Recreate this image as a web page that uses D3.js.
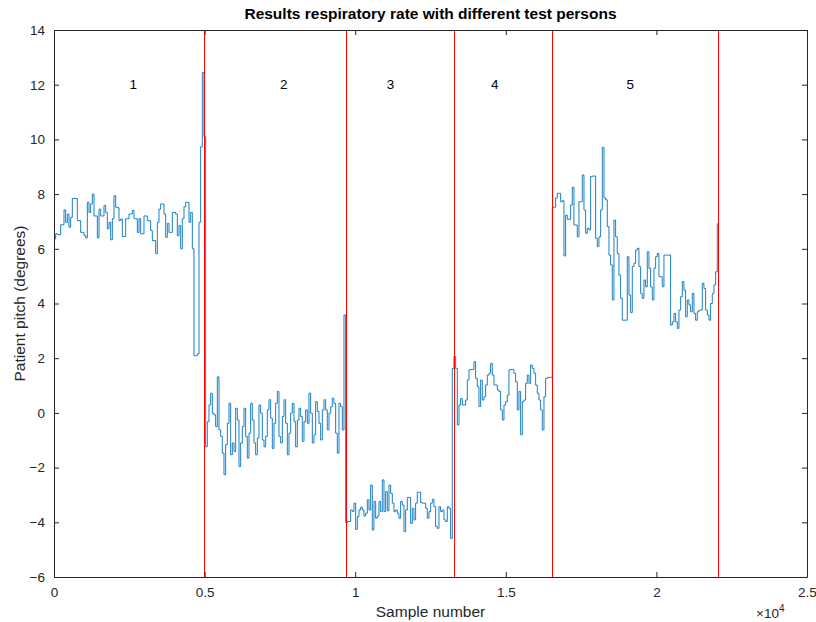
<!DOCTYPE html>
<html>
<head>
<meta charset="utf-8">
<script src="https://cdn.jsdelivr.net/npm/d3@7"></script>
<style>
  body { margin: 0; background: #fff; }
  text { font-family: "Liberation Sans", Arial, sans-serif; }
</style>
</head>
<body>
<div id="chart"></div>
<script>
// pitch readings per test person, one value every sampleStep samples
var sampleStep = 55.33
var person1 = [6.36, 6.55, 6.52, 6.52, 6.88, 6.88, 7.42, 6.97, 7.27, 6.79, 7.15, 7.84, 7.84, 7.84, 7.03, 7.03,
  6.6, 6.6, 6.48, 6.4, 7.7, 7.33, 7.64, 8.0, 7.2, 7.2, 6.4, 7.45, 7.2, 7.2, 7.58, 7.33, 6.73, 6.97, 6.33, 7.1,
  7.94, 7.52, 7.5, 7.03, 7.09, 6.45, 6.45, 7.1, 7.1, 7.27, 7.27, 7.4, 7.1, 7.1, 6.6, 7.1, 6.55, 6.55, 7.2, 7.2,
  7.03, 7.03, 6.67, 6.3, 6.3, 5.82, 6.97, 7.45, 7.64, 7.64, 7.27, 6.42, 6.93, 6.6, 6.6, 7.33, 7.33, 7.27, 6.48,
  6.85, 6.0, 7.1, 7.54, 7.7, 7.7, 6.97, 7.33, 6.0, 2.09, 2.09, 2.16, 6.97, 9.73, 12.45, 10.1]
var person2 = [-1.24, -0.32, 0.29, 0.72, -0.01, -0.07, -0.5, 1.32, -0.62, -0.86, -1.47, -2.26, -1.16, -0.38,
  0.35, -1.53, -1.1, -1.41, 0.17, -0.26, -1.96, -1.1, -0.5, 0.17, -0.86, -1.65, -0.74, 0.35, -0.26, -1.1, -1.53,
  -0.92, 0.29, -0.01, -0.99, -1.24, -0.86, 0.11, 0.48, -0.19, -1.3, -0.38, 0.35, 0.78, -0.86, -1.1, -0.13, 0.48,
  -0.38, -1.53, -0.74, -0.01, 0.35, -0.32, -1.24, -0.26, 0.17, -0.13, -1.04, -0.32, 0.11, -0.38, 0.72, -0.01,
  -1.1, -0.8, 0.41, 0.05, -0.38, -0.99, 0.11, 0.48, 0.11, -0.62, -0.01, 0.23, 0.54, 0.35, -0.74, -1.47, 0.35,
  0.23, -0.62, 3.58]
var person3 = [-4.01, -3.97, -3.97, -3.55, -3.6, -3.3, -4.26, -3.79, -3.55, -3.45, -3.55, -3.77, -3.67, -3.18,
  -3.55, -2.64, -4.28, -3.24, -3.85, -3.77, -3.24, -3.61, -2.45, -3.61, -2.88, -3.58, -2.64, -2.94, -3.3, -3.61,
  -3.55, -3.67, -3.85, -3.24, -3.37, -4.34, -3.55, -3.09, -3.09, -4.04, -3.49, -3.91, -3.3, -2.9, -2.9, -3.28,
  -3.3, -3.3, -3.49, -3.85, -3.61, -3.3, -3.16, -3.43, -4.16, -4.22, -3.43, -3.61, -3.55, -3.91, -3.97, -3.43,
  -3.49, -4.59]
var person4 = [1.63, 2.06, 1.63, -0.44, 0.29, 0.53, 0.29, 0.29, 0.47, 1.2, 1.57, 1.59, 1.59, 1.87, 1.26, 0.96,
  0.23, 1.2, 0.47, 0.59, 1.02, 1.38, 1.45, 1.81, 1.38, 1.02, 1.02, 0.84, 0.78, 0.11, -0.26, 0.29, 0.41, 0.65,
  1.57, 1.59, 1.59, 1.45, 1.14, 0.11, 0.78, -0.8, 0.41, 0.47, 1.08, 1.38, 1.08, 1.75, 1.63, 1.45, 1.02, 0.72,
  0.47, 0.11, -0.62, 0.59, 1.26, 1.3, 1.3, 1.3]
var person5 = [7.52, 7.52, 7.86, 8.03, 8.03, 7.72, 7.76, 5.74, 7.23, 7.08, 7.08, 7.6, 8.25, 6.87, 6.87, 6.44,
  7.72, 7.72, 8.7, 7.42, 6.57, 6.75, 6.69, 8.64, 8.66, 8.66, 6.38, 6.08, 6.44, 7.42, 9.71, 7.86, 7.79, 6.81,
  5.77, 5.41, 4.13, 7.05, 6.44, 5.83, 5.04, 4.19, 3.39, 3.39, 3.39, 5.71, 4.31, 3.67, 5.35, 5.47, 5.95, 6.02,
  5.35, 4.37, 4.19, 4.86, 4.61, 5.89, 5.29, 4.61, 4.13, 5.29, 5.71, 5.83, 4.98, 4.98, 4.61, 5.77, 5.77, 5.77,
  5.77, 3.21, 3.33, 3.64, 3.33, 3.09, 3.76, 4.25, 4.8, 4.49, 3.52, 4.13, 3.95, 3.7, 4.37, 3.64, 3.39, 3.7, 3.76,
  3.76, 4.74, 4.55, 3.76, 3.58, 3.39, 4.0, 4.37, 4.68, 5.16, 6.93]

var boundaries = [5000, 9700, 13290, 16570, 22050]
var personLabels = ["1", "2", "3", "4", "5"]
var labelSamples = [2630, 7630, 11170, 14630, 19130]
var labelValue = 12
var xTicks = [0, 5000, 10000, 15000, 20000, 25000]
var yTicks = [-6, -4, -2, 0, 2, 4, 6, 8, 10, 12, 14]

var width = 816, height = 622
var margin = {top: 30, right: 9, bottom: 45, left: 54}
var axisColor = "#262626"

var svg = d3.select("#chart").append("svg")
    .attr("width", width).attr("height", height)

var x = d3.scaleLinear().domain([0, 25000]).range([margin.left, width - margin.right])
var y = d3.scaleLinear().domain([-6, 14]).range([height - margin.bottom, margin.top])

var pitch = person1.concat(person2, person3, person4, person5)
    .map(function(v, i) { return {s: i * sampleStep, v: v} })

var line = d3.line()
    .x(function(d) { return x(d.s) })
    .y(function(d) { return y(d.v) })
    .curve(d3.curveStepAfter)

svg.append("path")
    .datum(pitch)
    .attr("d", line)
    .style("fill", "none")
    .style("stroke", "#0072BD")
    .style("stroke-width", 0.9)

// snap the red lines to even pixel columns so they stay red in the photo
function snap(v) { return 2 * Math.floor(v / 2) + 0.5 }

svg.selectAll("line.bound")
    .data(boundaries)
    .enter().append("line")
    .attr("class", "bound")
    .attr("x1", function(d) { return snap(x(d)) })
    .attr("x2", function(d) { return snap(x(d)) })
    .attr("y1", y(-6)).attr("y2", y(14))
    .style("stroke", "#ff0000")
    .style("stroke-width", 1)
    .style("shape-rendering", "crispEdges")

svg.selectAll("text.person")
    .data(personLabels)
    .enter().append("text")
    .attr("class", "person")
    .attr("x", function(d, i) { return x(labelSamples[i]) })
    .attr("y", y(labelValue))
    .attr("dy", ".35em")
    .attr("text-anchor", "middle")
    .style("font-size", "13.5px")
    .style("fill", "#000")
    .text(function(d) { return d })

// axes in MATLAB style: ticks inward, box on all sides
var tickLen = 5
var xAxis = d3.axisBottom(x).tickValues(xTicks).tickSizeInner(-tickLen).tickSizeOuter(0)
    .tickPadding(10).tickFormat(function(d) { return d3.format("")(d / 10000) })
var yAxis = d3.axisLeft(y).tickValues(yTicks).tickSizeInner(-tickLen).tickSizeOuter(0)
    .tickPadding(9)

var gx = svg.append("g").attr("transform", "translate(0," + y(-6) + ")").call(xAxis)
var gy = svg.append("g").attr("transform", "translate(" + x(0) + ",0)").call(yAxis)
var gxTop = svg.append("g").attr("transform", "translate(0," + y(14) + ")")
    .call(d3.axisTop(x).tickValues(xTicks).tickSizeInner(-tickLen).tickSizeOuter(0).tickFormat(""))
var gyRight = svg.append("g").attr("transform", "translate(" + x(25000) + ",0)")
    .call(d3.axisRight(y).tickValues(yTicks).tickSizeInner(-tickLen).tickSizeOuter(0).tickFormat(""))

;[gx, gy, gxTop, gyRight].forEach(function(g) {
    g.selectAll("path").style("stroke", axisColor).style("stroke-width", 1)
    g.selectAll("line").style("stroke", axisColor)
    g.selectAll("text").style("font-size", "13.5px").style("fill", axisColor)
        .style("font-family", "'Liberation Sans', Arial, sans-serif")
})

svg.append("text")
    .attr("x", (x(0) + x(25000)) / 2).attr("y", 19)
    .attr("text-anchor", "middle")
    .style("font-size", "15.5px").style("font-weight", "bold").style("fill", "#000")
    .text("Results respiratory rate with different test persons")

svg.append("text")
    .attr("x", (x(0) + x(25000)) / 2).attr("y", 617)
    .attr("text-anchor", "middle")
    .style("font-size", "15.5px").style("fill", axisColor)
    .text("Sample number")

svg.append("text")
    .attr("transform", "translate(25," + (y(-6) + y(14)) / 2 + ") rotate(-90)")
    .attr("text-anchor", "middle")
    .style("font-size", "15.5px").style("fill", axisColor)
    .text("Patient pitch (degrees)")

var expo = svg.append("text")
    .attr("x", 756).attr("y", 618)
    .style("font-size", "13.5px").style("fill", axisColor)
expo.append("tspan").text("\u00d710")
expo.append("tspan").attr("dy", -6).style("font-size", "10px").text("4")
</script>
</body>
</html>
